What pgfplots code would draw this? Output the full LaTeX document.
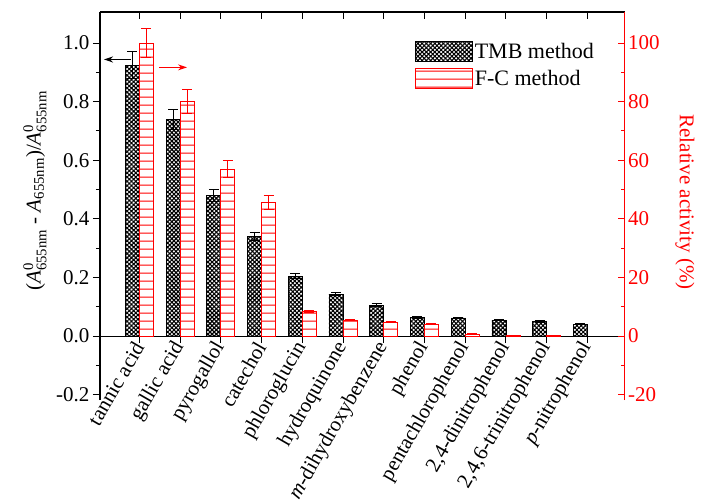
\documentclass[border=0pt]{standalone}
\usepackage{pgfplots}
\pgfplotsset{compat=1.18}
\usepackage{amsmath}
\usepackage{fontspec}
\setmainfont{Liberation Serif}
\usetikzlibrary{patterns.meta,arrows.meta}
\newcommand{\fs}{\fontsize{21}{25}\selectfont}
\tikzdeclarepattern{
  name=redlines,
  type=colored,
  bounding box={(0pt,0pt) and (10pt,7.8pt)},
  tile size={(10pt,7.8pt)},
  code={\draw[red, line width=0.9pt] (0pt,3.9pt) -- (10pt,3.9pt);}
}
\pgfplotsset{
  myleg/.style={legend image code/.code={\draw[##1] (0pt,-10pt) rectangle (57pt,10pt);}},
}
\begin{document}
\begin{tikzpicture}
\pgfplotsset{
  base/.style={scale only axis, width=524.5pt, height=388pt, xmin=0.035, xmax=12.91,
    at={(0,0)}, anchor=south west, ybar, bar width=0.344,
    xtick={1,...,12},
    /pgf/number format/assume math mode=true,
    tick label style={font=\fs},
    major tick length=7pt, minor tick length=4pt,
    clip=false},
  tmb/.style={draw=black, line width=0.8pt, pattern={Hatch[angle=45,distance=3pt,line width=1.1pt]}, pattern color=black},
  fc/.style={draw=red, line width=0.9pt, pattern=redlines},
}
\path (-100pt,-91pt) rectangle (602pt,400pt);
\begin{axis}[base, ymin=-0.218, ymax=1.106,
  axis y line*=left, axis x line*=middle,
  axis line style={-, line width=1.2pt, black},
  tick align=outside, tick style={black, line width=1pt},
  hide obscured x ticks=false, hide obscured y ticks=false,
  xticklabels={tannic acid, gallic acid, pyrogallol, catechol, phloroglucin, hydroquinone, \textit{m}-dihydroxybenzene, phenol, pentachlorophenol, {2,4-dinitrophenol}, {2,4,6-trinitrophenol}, \textit{p}-nitrophenol},
  xticklabel style={rotate=60, anchor=east, inner sep=1pt},
  ytick={-0.2,0,0.2,0.4,0.6,0.8,1.0}, minor y tick num=1,
  yticklabel style={/pgf/number format/.cd, fixed, fixed zerofill, precision=1},
  ylabel={(\textit{A}$^{\text{0}}_{\text{655nm}}$ - \textit{A}$_{\text{655nm}}$)/\textit{A}$^{\text{0}}_{\text{655nm}}$},
  every axis y label/.style={at={(axis description cs:-0.124,0.539)}, rotate=90, anchor=center, font=\fs},
]
\addplot[tmb, bar shift=-0.172,
  error bars/.cd, y dir=both, y explicit,
  error bar style={black, line width=1pt},
  error mark options={black, rotate=90, mark size=5pt, line width=1pt}]
coordinates {
 (1,0.925) +- (0,0.045)
 (2,0.740) +- (0,0.035)
 (3,0.480) +- (0,0.022)
 (4,0.340) +- (0,0.015)
 (5,0.205) +- (0,0.009)
 (6,0.143) +- (0,0.006)
 (7,0.106) +- (0,0.005)
 (8,0.064) +- (0,0.003)
 (9,0.062) +- (0,0.003)
 (10,0.055) +- (0,0.003)
 (11,0.050) +- (0,0.002)
 (12,0.040) +- (0,0.002)
};
\draw[-{Stealth[length=9pt,width=6pt]}, line width=1.2pt, black] (axis cs:0.796,0.944) -- (axis cs:0.133,0.944);
\end{axis}
\begin{axis}[base, ymin=-21.8, ymax=110.6,
  axis y line*=right, axis x line*=top,
  x axis line style={-, line width=1.2pt, black},
  y axis line style={-, line width=1.2pt, red},
  tick align=inside,
  x tick style={black, line width=1pt},
  y tick style={red, line width=1pt},
  xticklabels={},
  ytick={-20,0,20,40,60,80,100}, minor y tick num=1,
  yticklabel style={red},
  ylabel={Relative activity (\%)},
  every axis y label/.style={at={(axis description cs:1.115,0.510)}, rotate=-90, anchor=center, red, font=\fs},
  legend style={draw=none, fill=none, at={(axis description cs:0.60,0.925)}, anchor=north west, inner sep=0pt, row sep=6pt, font=\fontsize{22}{26}\selectfont, /tikz/every even column/.append style={column sep=3pt}},
  legend cell align=left,
]
\addlegendimage{tmb, myleg}
\addlegendentry{TMB method}
\addplot[fc, bar shift=0.172, myleg,
  error bars/.cd, y dir=both, y explicit,
  error bar style={red, line width=1pt},
  error mark options={red, rotate=90, mark size=5pt, line width=1pt}]
coordinates {
 (1,100) +- (0,4.9)
 (2,80.1) +- (0,4.0)
 (3,57.0) +- (0,2.8)
 (4,45.5) +- (0,2.4)
 (5,8.5) +- (0,0.4)
 (6,5.5) +- (0,0.3)
 (7,4.8) +- (0,0.2)
 (8,4.1) +- (0,0.2)
 (9,0.7) +- (0,0.1)
 (10,0.2) +- (0,0.05)
 (11,0.2) +- (0,0.05)
};
\addlegendentry{F-C method}
\draw[-{Stealth[length=9pt,width=6pt]}, line width=1.2pt, red] (axis cs:1.484,91.7) -- (axis cs:2.17,91.7);
\end{axis}
\end{tikzpicture}
\end{document}
